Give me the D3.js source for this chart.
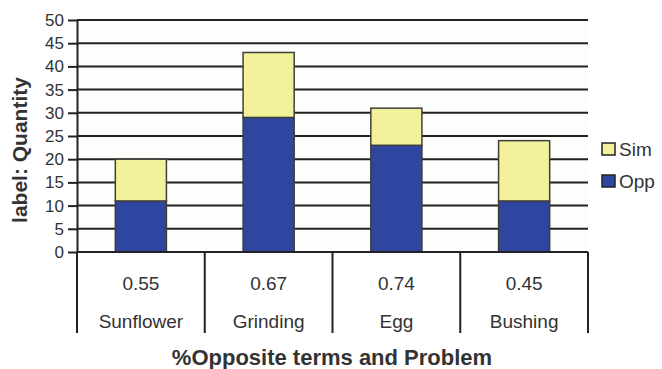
<!DOCTYPE html>
<html>
<head>
<meta charset="utf-8">
<script src="https://cdn.jsdelivr.net/npm/d3@7"></script>
<style>
  html, body { margin: 0; padding: 0; background: #ffffff; }
  svg { display: block; font-family: Arial, "Liberation Sans", sans-serif; }
</style>
</head>
<body>
<svg id="chart" width="662" height="369"></svg>
<script>
// Problems and their share of opposite terms
const categories = ["Sunflower", "Grinding", "Egg", "Bushing"];
const ratios = ["0.55", "0.67", "0.74", "0.45"];
// Stacked quantities
const oppValues = [11, 29, 23, 11];
const simValues = [9, 14, 8, 13];
const seriesNames = ["Sim", "Opp"];
const yTicks = [0, 5, 10, 15, 20, 25, 30, 35, 40, 45, 50];

const colors = { Opp: "#2f46a0", Sim: "#f3f19b" };

const svg = d3.select("#chart");
const margin = { left: 77, right: 74, top: 20, bottom: 117 };
const W = 662, H = 369;
const plotW = W - margin.left - margin.right;
const plotH = H - margin.top - margin.bottom;

const x = d3.scaleBand().domain(categories).range([margin.left, margin.left + plotW]).paddingInner(0).paddingOuter(0);
const y = d3.scaleLinear().domain([0, 50]).range([margin.top + plotH, margin.top]);

// Plot background
svg.append("rect")
  .attr("x", margin.left).attr("y", margin.top)
  .attr("width", plotW).attr("height", plotH)
  .attr("fill", "#fdfdfb");

// Horizontal gridlines
svg.append("g").selectAll("line")
  .data(yTicks.filter(t => t > 0))
  .join("line")
  .attr("x1", margin.left).attr("x2", margin.left + plotW)
  .attr("y1", d => y(d)).attr("y2", d => y(d))
  .attr("stroke", "#222").attr("stroke-width", 2);

// Stacked bars
const rows = categories.map((c, i) => ({ cat: c, Opp: oppValues[i], Sim: simValues[i] }));
const stack = d3.stack().keys(["Opp", "Sim"])(rows);
const barW = x.bandwidth() * 0.4;

svg.append("g").selectAll("g")
  .data(stack)
  .join("g")
  .attr("fill", d => colors[d.key])
  .selectAll("rect")
  .data(d => d)
  .join("rect")
  .attr("x", d => x(d.data.cat) + (x.bandwidth() - barW) / 2)
  .attr("y", d => y(d[1]))
  .attr("width", barW)
  .attr("height", d => y(d[0]) - y(d[1]))
  .attr("stroke", "#3f3f3a").attr("stroke-width", 1.5);

// Y axis
const yAxis = d3.axisLeft(y).tickValues(yTicks).tickSize(9).tickSizeOuter(0).tickPadding(4);
const ya = svg.append("g").attr("transform", `translate(${margin.left},0)`).call(yAxis);
ya.attr("font-size", 17).attr("font-family", "Arial, 'Liberation Sans', sans-serif");
ya.select(".domain").attr("stroke", "#222").attr("stroke-width", 2);
ya.selectAll(".tick line").attr("stroke", "#222").attr("stroke-width", 2);
ya.selectAll(".tick text").attr("fill", "#333");

// Category table beneath the plot
const baseY = y(0);
const tableBottom = 333;
svg.append("line")
  .attr("x1", margin.left).attr("x2", margin.left + plotW)
  .attr("y1", baseY).attr("y2", baseY)
  .attr("stroke", "#222").attr("stroke-width", 2);

const bounds = categories.map(c => x(c)).concat([x(categories[categories.length - 1]) + x.bandwidth()]);
svg.append("g").selectAll("line")
  .data(bounds)
  .join("line")
  .attr("x1", d => d).attr("x2", d => d)
  .attr("y1", baseY).attr("y2", tableBottom)
  .attr("stroke", "#222").attr("stroke-width", 2);

const cell = svg.append("g").selectAll("g")
  .data(categories)
  .join("g")
  .attr("transform", d => `translate(${x(d) + x.bandwidth() / 2},0)`);
cell.append("text")
  .attr("y", 290).attr("text-anchor", "middle")
  .attr("font-size", 19).attr("fill", "#333")
  .text((d, i) => ratios[i]);
cell.append("text")
  .attr("y", 328).attr("text-anchor", "middle")
  .attr("font-size", 19).attr("fill", "#333")
  .text(d => d);

// Axis titles
svg.append("text")
  .attr("x", 332).attr("y", 365)
  .attr("text-anchor", "middle")
  .attr("font-size", 22).attr("font-weight", "bold").attr("fill", "#333")
  .text("%Opposite terms and Problem");

svg.append("text")
  .attr("transform", `translate(27,150) rotate(-90)`)
  .attr("text-anchor", "middle")
  .attr("font-size", 21).attr("font-weight", "bold").attr("fill", "#333")
  .text("label: Quantity");

// Legend
const legend = svg.append("g").selectAll("g")
  .data(seriesNames)
  .join("g")
  .attr("transform", (d, i) => `translate(602,${143 + i * 32})`);
legend.append("rect")
  .attr("width", 13).attr("height", 12)
  .attr("fill", d => colors[d])
  .attr("stroke", "#222").attr("stroke-width", 1.5);
legend.append("text")
  .attr("x", 17).attr("y", 13)
  .attr("font-size", 19).attr("fill", "#333")
  .text(d => d);
</script>
</body>
</html>
